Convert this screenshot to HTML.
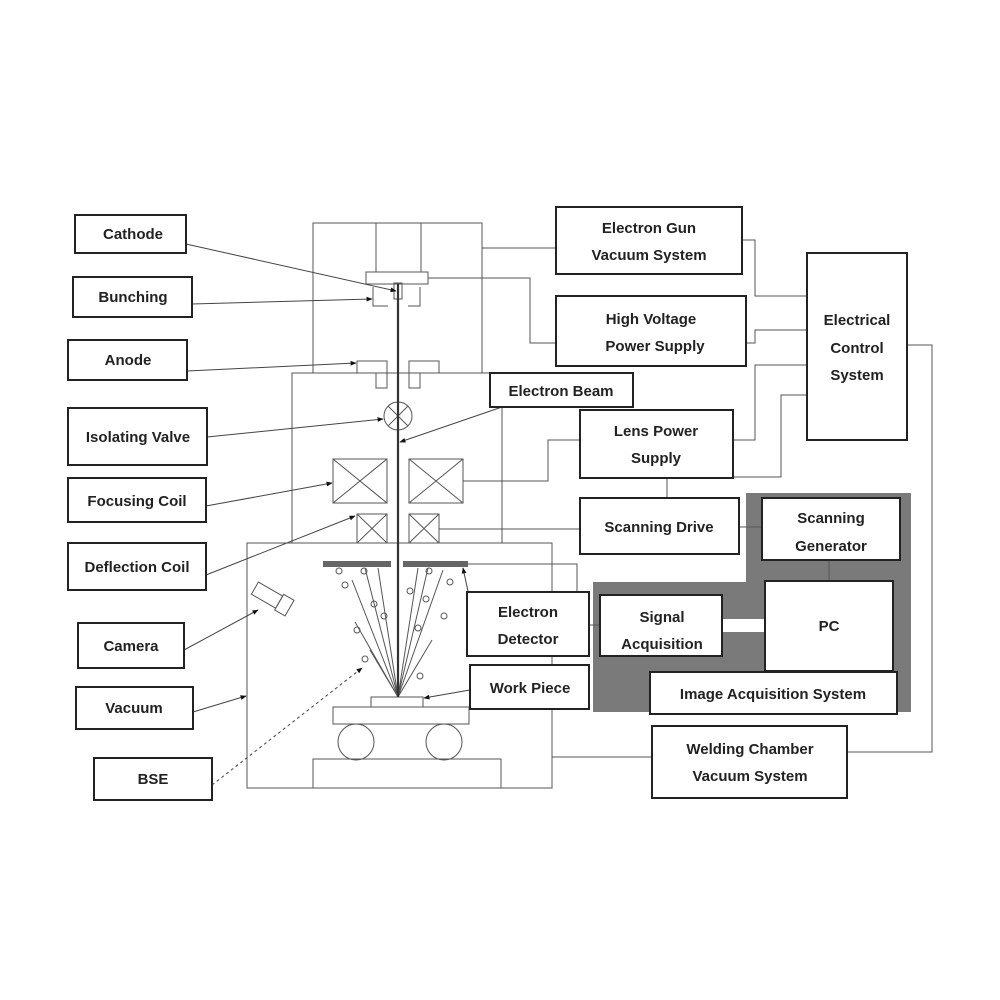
<!DOCTYPE html>
<html><head><meta charset="utf-8"><style>
html,body{margin:0;padding:0;background:#fff;}
svg{display:block}
text{font-family:"Liberation Sans",Arial,sans-serif;font-weight:bold;font-size:15px;fill:#222;text-anchor:middle}
</style></head><body>
<svg width="1000" height="1000" viewBox="0 0 1000 1000" xmlns="http://www.w3.org/2000/svg">
<defs>
<marker id="a" viewBox="0 0 10 10" refX="9" refY="5" markerWidth="9" markerHeight="6" orient="auto"><path d="M0,1 L10,5 L0,9 z" fill="#111"/></marker>
</defs>
<path d="M593,582 L746,582 L746,493 L911,493 L911,712 L593,712 Z" fill="#7a7a7a"/>
<g fill="none" stroke="#555" stroke-width="1">
<rect x="313" y="223" width="169" height="150"/>
<line x1="376" y1="223" x2="376" y2="272"/><line x1="421" y1="223" x2="421" y2="272"/>
<rect x="366" y="272" width="62" height="12"/>
<rect x="394" y="283" width="8" height="16"/>
<path d="M373,287 L373,306 L388,306 M420,287 L420,306 L408,306"/>
<polyline points="292,543 292,373 502,373 502,543"/>
<path d="M357,361 L387,361 L387,388 L376,388 L376,373 L357,373 Z"/>
<path d="M439,361 L409,361 L409,388 L420,388 L420,373 L439,373 Z"/>
<circle cx="398" cy="416" r="14"/>
<line x1="388" y1="406" x2="408" y2="426"/><line x1="408" y1="406" x2="388" y2="426"/>
<rect x="333" y="459" width="54" height="44"/><path d="M333,459 L387,503 M387,459 L333,503"/>
<rect x="409" y="459" width="54" height="44"/><path d="M409,459 L463,503 M463,459 L409,503"/>
<rect x="357" y="514" width="30" height="29"/><path d="M357,514 L387,543 M387,514 L357,543"/>
<rect x="409" y="514" width="30" height="29"/><path d="M409,514 L439,543 M439,514 L409,543"/>
<rect x="247" y="543" width="305" height="245"/>
<rect x="371" y="697" width="52" height="10"/>
<rect x="333" y="707" width="136" height="17"/>
<circle cx="356" cy="742" r="18"/><circle cx="444" cy="742" r="18"/>
<rect x="313" y="759" width="188" height="29"/>
<g transform="rotate(30 270 598)"><rect x="252" y="590" width="28" height="14"/><rect x="280" y="588" width="12" height="18"/></g>
<path d="M398,697 L352,580 M398,697 L365,568 M398,697 L378,568 M398,697 L355,622 M398,697 L370,650 M398,697 L418,568 M398,697 L428,568 M398,697 L443,570 M398,697 L432,640 M398,697 L420,660"/>
<circle cx="339" cy="571" r="3"/><circle cx="364" cy="571" r="3"/><circle cx="345" cy="585" r="3"/>
<circle cx="374" cy="604" r="3"/><circle cx="384" cy="616" r="3"/><circle cx="357" cy="630" r="3"/>
<circle cx="365" cy="659" r="3"/><circle cx="429" cy="571" r="3"/><circle cx="410" cy="591" r="3"/>
<circle cx="426" cy="599" r="3"/><circle cx="450" cy="582" r="3"/><circle cx="444" cy="616" r="3"/>
<circle cx="418" cy="628" r="3"/><circle cx="420" cy="676" r="3"/>
<line x1="482" y1="248" x2="556" y2="248"/>
<polyline points="428,278 530,278 530,343 556,343"/>
<polyline points="463,481 548,481 548,440 580,440"/>
<line x1="439" y1="529" x2="580" y2="529"/>
<polyline points="468,564 577,564 577,593"/>
<polyline points="552,543 552,757 652,757"/>
<polyline points="907,345 932,345 932,752 847,752"/>
<polyline points="742,240 755,240 755,296 807,296"/>
<polyline points="746,343 755,343 755,330 807,330"/>
<polyline points="733,440 755,440 755,365 807,365"/>
<polyline points="733,477 781,477 781,395 807,395"/>
<line x1="667" y1="478" x2="667" y2="498"/>
<line x1="739" y1="527" x2="762" y2="527"/>
<line x1="829" y1="560" x2="829" y2="580"/>
<line x1="589" y1="625" x2="600" y2="625"/>
<line x1="502" y1="407" x2="502" y2="543"/>
</g>
<rect x="722" y="619" width="44" height="13" fill="#fff"/>
<line x1="398" y1="284" x2="398" y2="697" stroke="#333" stroke-width="2.2"/>
<rect x="323" y="561" width="68" height="6" fill="#666"/>
<rect x="403" y="561" width="65" height="6" fill="#666"/>
<g stroke="#444" stroke-width="1" fill="none" marker-end="url(#a)">
<line x1="186" y1="244" x2="396" y2="291"/>
<line x1="192" y1="304" x2="372" y2="299"/>
<line x1="187" y1="371" x2="356" y2="363"/>
<line x1="207" y1="437" x2="383" y2="419"/>
<line x1="206" y1="506" x2="332" y2="483"/>
<line x1="206" y1="575" x2="355" y2="516"/>
<line x1="184" y1="650" x2="258" y2="610"/>
<line x1="193" y1="712" x2="246" y2="696"/>
<line x1="212" y1="785" x2="362" y2="668" stroke-dasharray="3,3"/>
<line x1="502" y1="407" x2="400" y2="442"/>
<line x1="470" y1="690" x2="424" y2="698"/>
<line x1="469" y1="596" x2="463" y2="568"/>
</g>
<g fill="#fff" stroke="#222" stroke-width="2">
<rect x="75" y="215" width="111" height="38"/>
<rect x="73" y="277" width="119" height="40"/>
<rect x="68" y="340" width="119" height="40"/>
<rect x="68" y="408" width="139" height="57"/>
<rect x="68" y="478" width="138" height="44"/>
<rect x="68" y="543" width="138" height="47"/>
<rect x="78" y="623" width="106" height="45"/>
<rect x="76" y="687" width="117" height="42"/>
<rect x="94" y="758" width="118" height="42"/>
<rect x="556" y="207" width="186" height="67"/>
<rect x="556" y="296" width="190" height="70"/>
<rect x="490" y="373" width="143" height="34"/>
<rect x="580" y="410" width="153" height="68"/>
<rect x="807" y="253" width="100" height="187"/>
<rect x="580" y="498" width="159" height="56"/>
<rect x="762" y="498" width="138" height="62"/>
<rect x="765" y="581" width="128" height="90"/>
<rect x="600" y="595" width="122" height="61"/>
<rect x="650" y="672" width="247" height="42"/>
<rect x="467" y="592" width="122" height="64"/>
<rect x="470" y="665" width="119" height="44"/>
<rect x="652" y="726" width="195" height="72"/>
</g>
<text x="133" y="239">Cathode</text>
<text x="133" y="302">Bunching</text>
<text x="128" y="365">Anode</text>
<text x="138" y="442">Isolating Valve</text>
<text x="137" y="506">Focusing Coil</text>
<text x="137" y="572">Deflection Coil</text>
<text x="131" y="651">Camera</text>
<text x="134" y="713">Vacuum</text>
<text x="153" y="784">BSE</text>
<text x="649" y="233">Electron Gun</text>
<text x="649" y="260">Vacuum System</text>
<text x="651" y="324">High Voltage</text>
<text x="655" y="351">Power Supply</text>
<text x="561" y="396">Electron Beam</text>
<text x="656" y="436">Lens Power</text>
<text x="656" y="463">Supply</text>
<text x="857" y="325">Electrical</text>
<text x="857" y="353">Control</text>
<text x="857" y="380">System</text>
<text x="659" y="532">Scanning Drive</text>
<text x="831" y="523">Scanning</text>
<text x="831" y="551">Generator</text>
<text x="829" y="631">PC</text>
<text x="662" y="622">Signal</text>
<text x="662" y="649">Acquisition</text>
<text x="773" y="699">Image Acquisition System</text>
<text x="528" y="617">Electron</text>
<text x="528" y="644">Detector</text>
<text x="530" y="693">Work Piece</text>
<text x="750" y="754">Welding Chamber</text>
<text x="750" y="781">Vacuum System</text>
</svg>
</body></html>
